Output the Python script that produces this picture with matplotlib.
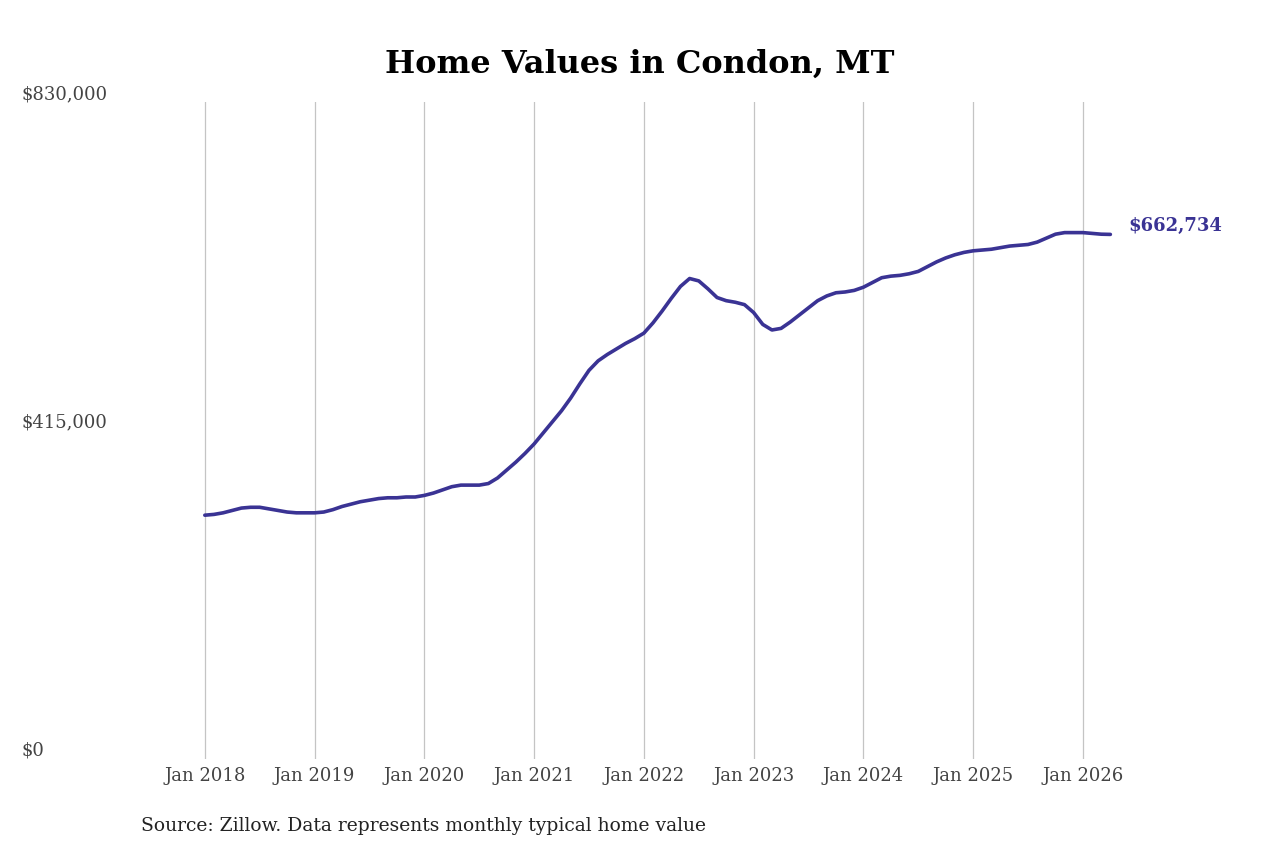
import numpy as np
import matplotlib
matplotlib.use("Agg")
import matplotlib.pyplot as plt

# monthly typical home value, Jan 2018 .. Apr 2026 (thousands of $)
vals_2018 = [308, 309, 311, 314, 317, 318, 318, 316, 314, 312, 311, 311]
vals_2019 = [311, 312, 315, 319, 322, 325, 327, 329, 330, 330, 331, 331]
vals_2020 = [333, 336, 340, 344, 346, 346, 346, 348, 355, 365, 375, 386]
vals_2021 = [398, 412, 426, 440, 456, 474, 491, 503, 511, 518, 525, 531]
vals_2022 = [538, 551, 566, 582, 597, 607, 604, 594, 583, 579, 577, 574]
vals_2023 = [564, 549, 542, 544, 552, 561, 570, 579, 585, 589, 590, 592]
vals_2024 = [596, 602, 608, 610, 611, 613, 616, 622, 628, 633, 637, 640]
vals_2025 = [642, 643, 644, 646, 648, 649, 650, 653, 658, 663, 665, 665]
vals_2026 = [665, 664, 663, 662.734]
tick_labels = ["Jan 2018", "Jan 2019", "Jan 2020", "Jan 2021", "Jan 2022",
               "Jan 2023", "Jan 2024", "Jan 2025", "Jan 2026"]

values = np.array(vals_2018 + vals_2019 + vals_2020 + vals_2021 + vals_2022
                  + vals_2023 + vals_2024 + vals_2025 + vals_2026) * 1000
months = np.arange(len(values))

plt.rcParams['font.family'] = ['DejaVu Serif']
fig = plt.figure(figsize=(12.8, 8.53), dpi=100)
ax = fig.add_axes([160 / 1280, 93 / 853, 965 / 1280, 657 / 853])

color = "#3a3394"
ax.plot(months, values, color=color, lw=2.6, solid_capstyle="round")
ax.text(months[-1] + 2, values[-1], f"${values[-1]:,.0f}", color=color,
        fontsize=13, fontweight="bold", va="bottom", ha="left")

ax.set_xlim(-4.9, 100.6)
ax.set_ylim(0, 830000)
ax.set_xticks(np.arange(0, 97, 12))
ax.set_xticklabels(tick_labels, fontsize=13, color="#444444")
ax.set_yticks([0, 415000, 830000])
ax.set_yticklabels(["$0", "$415,000", "$830,000"], fontsize=13, color="#444444")
for lbl in ax.get_yticklabels():
    lbl.set_verticalalignment("bottom")
    lbl.set_horizontalalignment("left")
ax.tick_params(axis="y", length=0, pad=100)
ax.tick_params(axis="x", length=0, pad=5)
ax.grid(axis="x", color="#c4c4c4", lw=0.9)
for s in ax.spines.values():
    s.set_visible(False)

fig.text(0.5, 0.915, "Home Values in Condon, MT", ha="center",
         fontsize=23, fontweight="heavy")
fig.text(141 / 1280, 0.026, "Source: Zillow. Data represents monthly typical home value",
         fontsize=13.5, color="#222222")

fig.savefig("out.png", dpi=100, facecolor="white")
